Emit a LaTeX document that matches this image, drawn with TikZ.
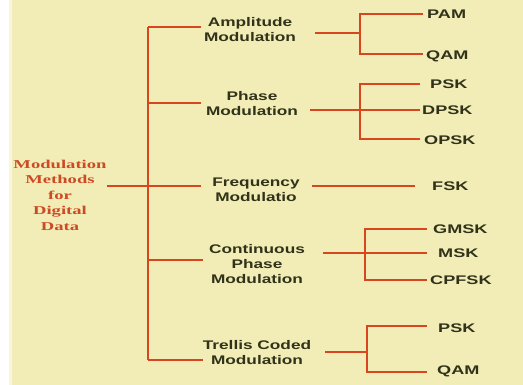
\documentclass[tikz,border=0pt]{standalone}
\usepackage{fontspec}
\setmainfont{Liberation Sans}
\newfontfamily\rootfont{Liberation Serif}
\usepackage{graphicx}
\definecolor{bg}{HTML}{F2EDB6}
\definecolor{ln}{HTML}{D6461F}
\definecolor{tx}{HTML}{30321A}
\definecolor{rt}{HTML}{CC4A24}
\newcommand{\wsans}[1]{\scalebox{1.38}[1]{#1}}
\newcommand{\wleaf}[1]{\scalebox{1.45}[1]{#1}}
\newcommand{\wser}[1]{\scalebox{1.55}[1]{#1}}
\tikzset{
  lone/.style={font=\bfseries\fontsize{12.5}{15}\selectfont, text=tx, align=center, inner sep=0pt},
  leaf/.style={font=\bfseries\fontsize{12.5}{15}\selectfont, text=tx, anchor=west, inner sep=0pt, text height=9pt, text depth=0pt},
  rootbox/.style={font=\rootfont\bfseries\fontsize{12}{15.5}\selectfont, text=rt, align=center, inner sep=0pt},
  link/.style={draw=ln, line width=2.9pt}
}
\begin{document}
\begin{tikzpicture}[x=1pt,y=-1pt]
\useasboundingbox (0,0) rectangle (523,385);
\fill[bg] (0,0) rectangle (523,385);
\fill[white] (0,0) rectangle (9,385);
\fill[white!50!bg] (9,0) rectangle (12,385);

% root
\node[rootbox] (root) at (60,195) {\wser{Modulation}\\\wser{Methods}\\\wser{for}\\\wser{Digital}\\\wser{Data}};
\coordinate (rootend) at (107,186);

% trunk
\coordinate (ttop) at (148,27);
\coordinate (tam) at (148,27);
\coordinate (tpm) at (148,103);
\coordinate (tfm) at (148,186);
\coordinate (tcm) at (148,260);
\coordinate (ttm) at (148,360);
\draw[link] (ttop) -- (ttm);
\draw[link] (rootend) -- (tfm);

% level 1 nodes
\node[lone] (am) at (250,30) {\wsans{Amplitude}\\\wsans{Modulation}};
\node[lone] (pm) at (252,104) {\wsans{Phase}\\\wsans{Modulation}};
\node[lone] (fm) at (256,190) {\wsans{Frequency}\\\wsans{Modulatio}};
\node[lone] (cm) at (257,264) {\wsans{Continuous}\\\wsans{Phase}\\\wsans{Modulation}};
\node[lone] (tm) at (257,353) {\wsans{Trellis Coded}\\\wsans{Modulation}};

\coordinate (eam) at (201,27);
\coordinate (epm) at (201,103);
\coordinate (efm) at (201,186);
\coordinate (ecm) at (203,260);
\coordinate (etm) at (203,360);
\draw[link] (tam) -- (eam);
\draw[link] (tpm) -- (epm);
\draw[link] (tfm) -- (efm);
\draw[link] (tcm) -- (ecm);
\draw[link] (ttm) -- (etm);

% leaves
\node[leaf] (pam) at (427,14) {\wleaf{PAM}};
\node[leaf] (qam1) at (426,55) {\wleaf{QAM}};
\node[leaf] (psk1) at (430,84) {\wleaf{PSK}};
\node[leaf] (dpsk) at (422,110) {\wleaf{DPSK}};
\node[leaf] (opsk) at (424,140) {\wleaf{OPSK}};
\node[leaf] (fsk) at (432,186) {\wleaf{FSK}};
\node[leaf] (gmsk) at (433,229) {\wleaf{GMSK}};
\node[leaf] (msk) at (438,253) {\wleaf{MSK}};
\node[leaf] (cpfsk) at (430,280) {\wleaf{CPFSK}};
\node[leaf] (psk2) at (438,328) {\wleaf{PSK}};
\node[leaf] (qam2) at (437,370) {\wleaf{QAM}};

% amplitude bracket
\coordinate (a0) at (315,33);
\coordinate (a1) at (360,33);
\coordinate (a2) at (423,14);
\coordinate (a3) at (423,54);
\draw[link] (a0) -- (a1);
\draw[link] (a2) -| (a1) |- (a3);

% phase bracket
\coordinate (p0) at (310,110);
\coordinate (p1) at (360,110);
\coordinate (p2) at (420,84);
\coordinate (p3) at (420,110);
\coordinate (p4) at (420,139);
\draw[link] (p0) -- (p3);
\draw[link] (p2) -| (p1) |- (p4);

% frequency
\coordinate (f0) at (312,186);
\coordinate (f1) at (415,186);
\draw[link] (f0) -- (f1);

% continuous bracket
\coordinate (c0) at (323,253);
\coordinate (c1) at (365,253);
\coordinate (c2) at (427,229);
\coordinate (c3) at (427,253);
\coordinate (c4) at (427,280);
\draw[link] (c0) -- (c3);
\draw[link] (c2) -| (c1) |- (c4);

% trellis bracket
\coordinate (r0) at (325,352);
\coordinate (r1) at (367,352);
\coordinate (r2) at (427,326);
\coordinate (r3) at (427,372);
\draw[link] (r0) -- (r1);
\draw[link] (r2) -| (r1) |- (r3);
\end{tikzpicture}
\end{document}
